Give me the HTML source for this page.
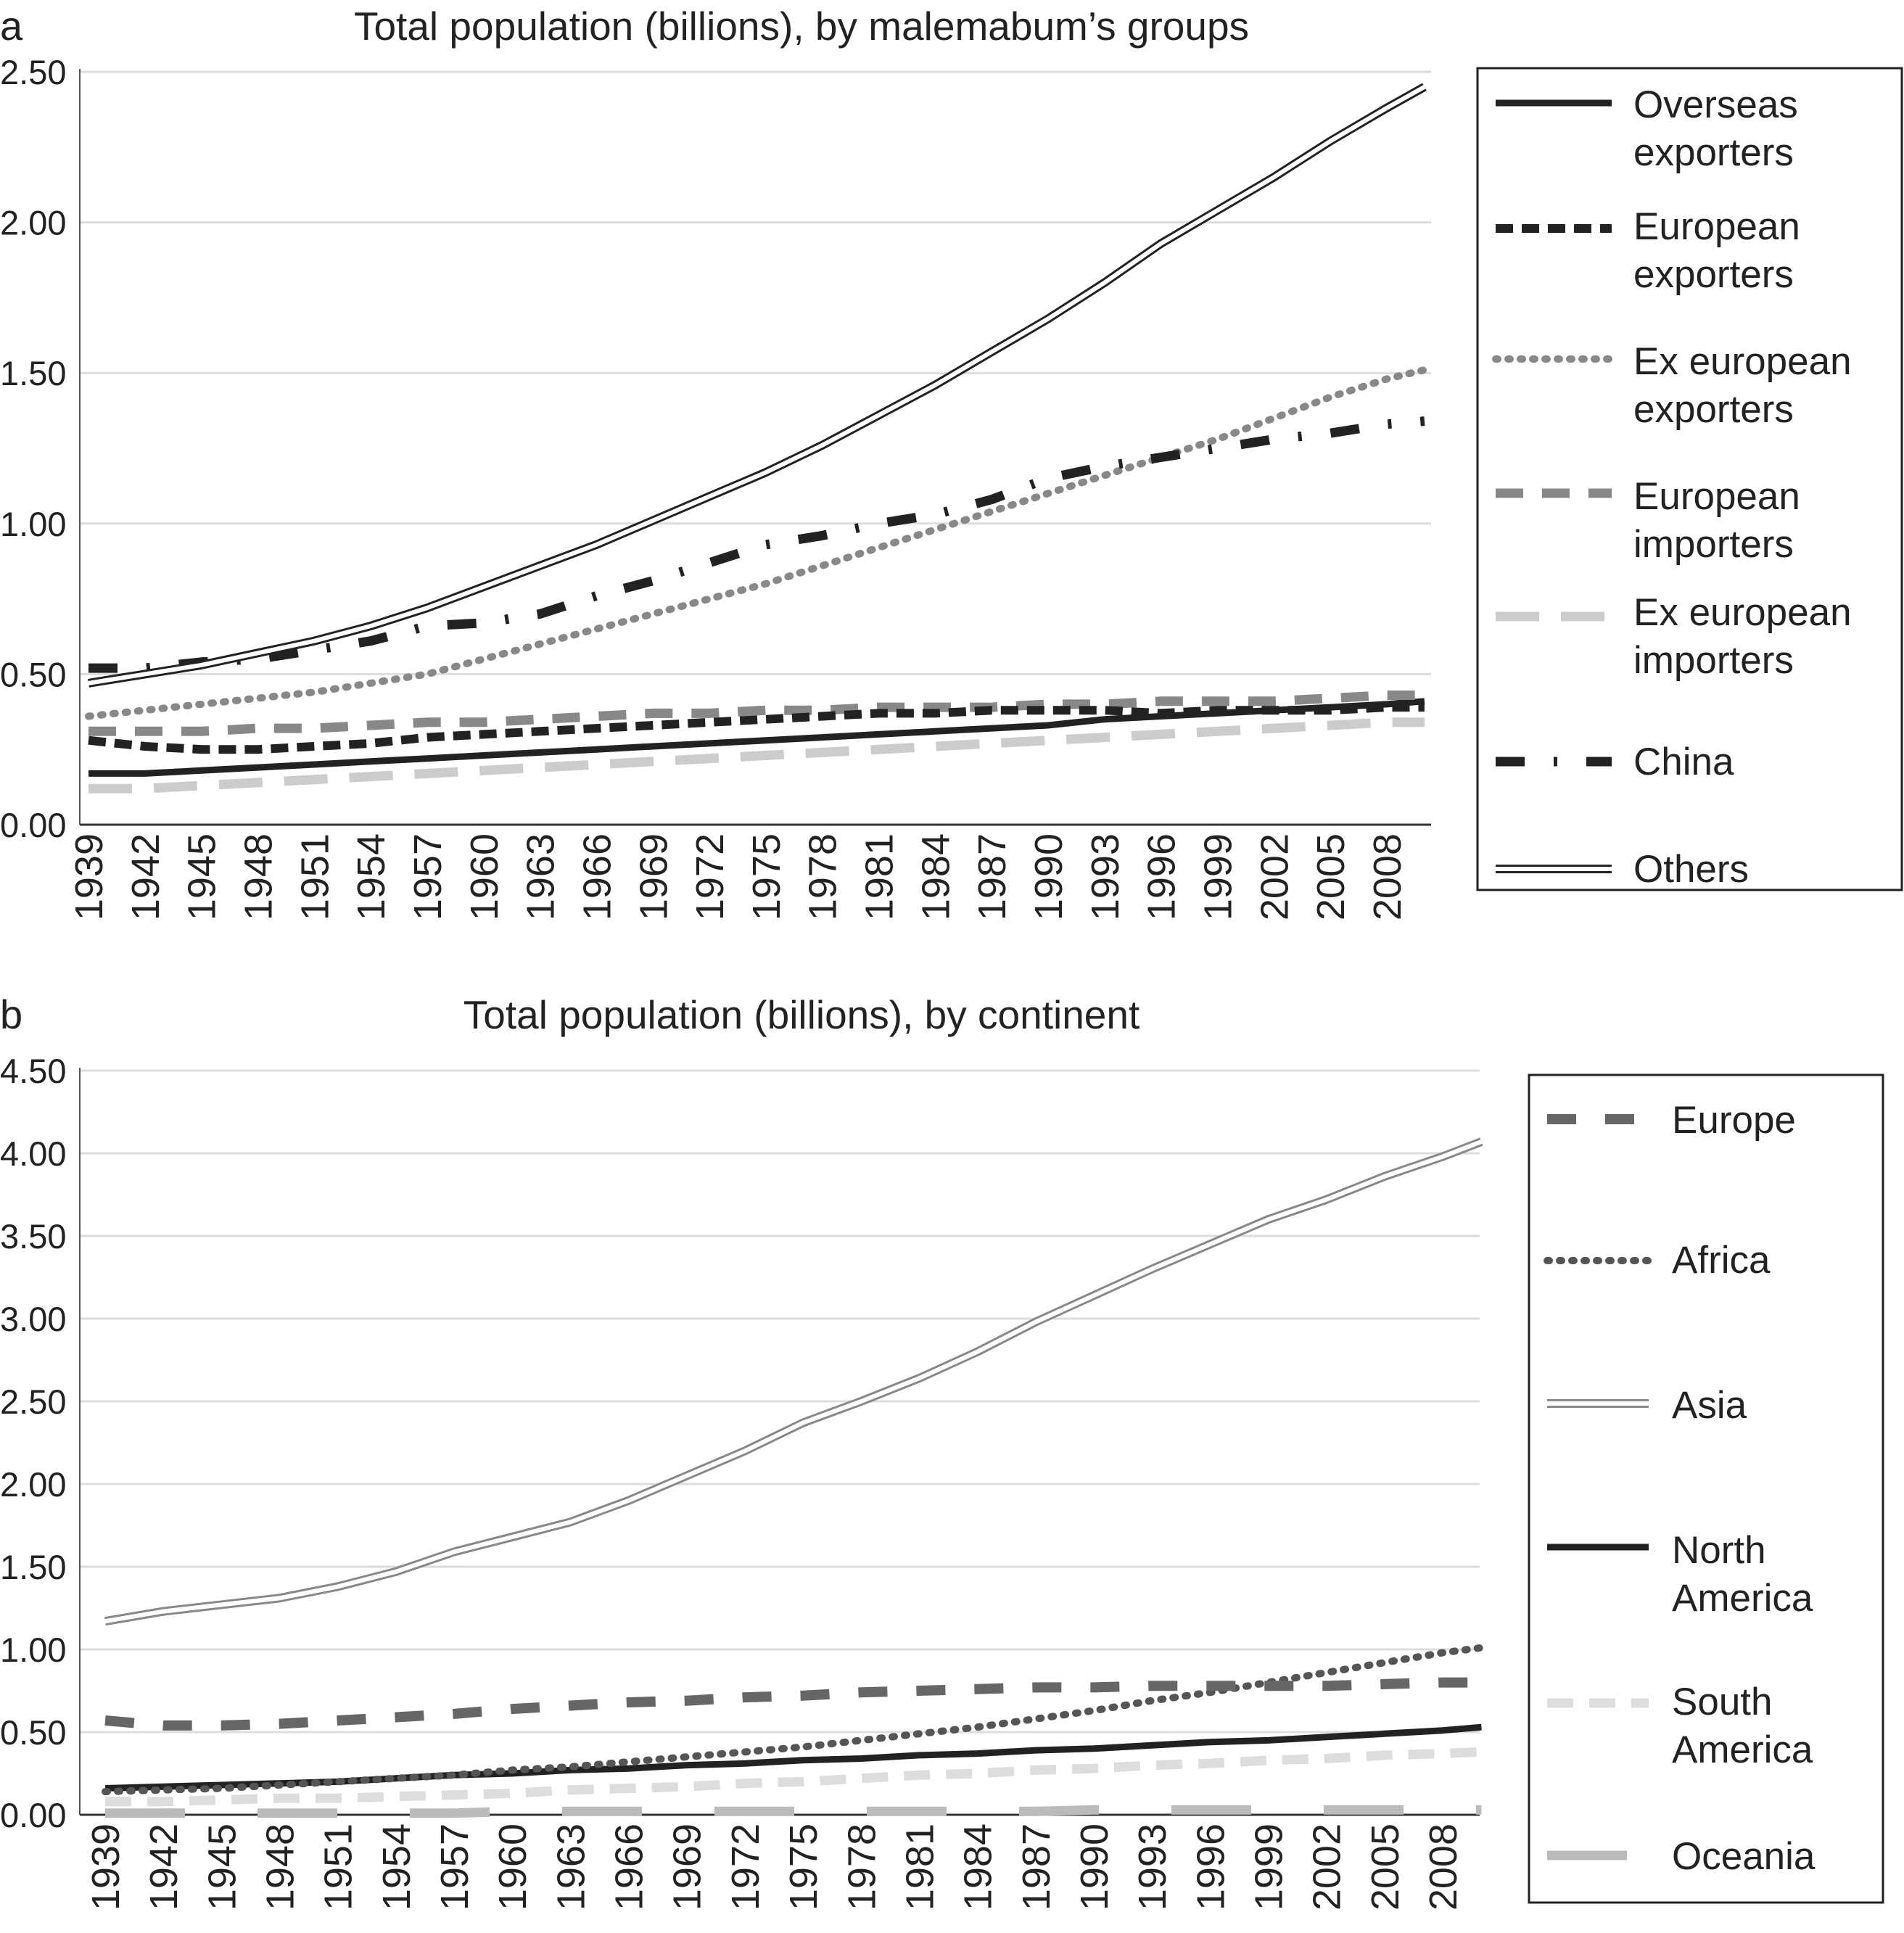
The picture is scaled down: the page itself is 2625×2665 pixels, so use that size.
<!DOCTYPE html>
<html><head><meta charset="utf-8">
<style>
html,body{margin:0;padding:0;background:#fff;}
svg{display:block;font-family:"Liberation Sans",sans-serif;}
</style></head>
<body>
<svg id="root" width="2625" height="2665" viewBox="0 0 2625 2665" xmlns="http://www.w3.org/2000/svg"></svg>
<script>
const years = [1939,1942,1945,1948,1951,1954,1957,1960,1963,1966,1969,1972,1975,1978,1981,1984,1987,1990,1993,1996,1999,2002,2005,2008,2010];
const tickYears = [1939,1942,1945,1948,1951,1954,1957,1960,1963,1966,1969,1972,1975,1978,1981,1984,1987,1990,1993,1996,1999,2002,2005,2008];
const ticksA = [0,0.5,1,1.5,2,2.5];
const ticksB = [0,0.5,1,1.5,2,2.5,3,3.5,4,4.5];
// chart a
const othersA = [0.47,0.50,0.53,0.57,0.61,0.66,0.72,0.79,0.86,0.93,1.01,1.09,1.17,1.26,1.36,1.46,1.57,1.68,1.80,1.93,2.04,2.15,2.27,2.38,2.45];
const exEurExpA = [0.36,0.38,0.40,0.42,0.44,0.47,0.50,0.55,0.60,0.65,0.70,0.75,0.80,0.86,0.92,0.98,1.04,1.10,1.16,1.22,1.28,1.35,1.42,1.48,1.51];
const chinaA = [0.52,0.52,0.54,0.55,0.58,0.61,0.66,0.67,0.70,0.76,0.81,0.87,0.93,0.96,1.00,1.03,1.08,1.15,1.19,1.22,1.25,1.28,1.30,1.33,1.34];
const eurImpA = [0.31,0.31,0.31,0.32,0.32,0.33,0.34,0.34,0.35,0.36,0.37,0.37,0.38,0.38,0.39,0.39,0.39,0.40,0.40,0.41,0.41,0.41,0.42,0.43,0.43];
const eurExpA = [0.28,0.26,0.25,0.25,0.26,0.27,0.29,0.30,0.31,0.32,0.33,0.34,0.35,0.36,0.37,0.37,0.38,0.38,0.38,0.37,0.38,0.38,0.38,0.39,0.39];
const overseasA = [0.17,0.17,0.18,0.19,0.20,0.21,0.22,0.23,0.24,0.25,0.26,0.27,0.28,0.29,0.30,0.31,0.32,0.33,0.35,0.36,0.37,0.38,0.39,0.40,0.41];
const exEurImpA = [0.12,0.12,0.13,0.14,0.15,0.16,0.17,0.18,0.19,0.20,0.21,0.22,0.23,0.24,0.25,0.26,0.27,0.28,0.29,0.30,0.31,0.32,0.33,0.34,0.34];
// chart b
const asiaB = [1.17,1.23,1.27,1.31,1.38,1.47,1.59,1.68,1.77,1.90,2.05,2.20,2.37,2.50,2.64,2.80,2.98,3.14,3.30,3.45,3.60,3.72,3.86,3.98,4.07];
const europeB = [0.57,0.54,0.54,0.55,0.57,0.59,0.61,0.64,0.66,0.68,0.69,0.71,0.72,0.74,0.75,0.76,0.77,0.77,0.78,0.78,0.78,0.78,0.79,0.80,0.80];
const africaB = [0.14,0.15,0.16,0.18,0.20,0.22,0.24,0.27,0.29,0.32,0.35,0.38,0.41,0.45,0.49,0.53,0.58,0.63,0.69,0.74,0.80,0.86,0.92,0.98,1.01];
const nAmericaB = [0.16,0.17,0.18,0.19,0.20,0.22,0.24,0.25,0.27,0.28,0.30,0.31,0.33,0.34,0.36,0.37,0.39,0.40,0.42,0.44,0.45,0.47,0.49,0.51,0.53];
const sAmericaB = [0.08,0.08,0.09,0.10,0.10,0.11,0.12,0.13,0.15,0.16,0.17,0.19,0.20,0.22,0.24,0.25,0.27,0.28,0.30,0.31,0.33,0.34,0.36,0.37,0.38];
const oceaniaB = [0.01,0.01,0.01,0.01,0.01,0.01,0.01,0.02,0.02,0.02,0.02,0.02,0.02,0.02,0.02,0.02,0.02,0.03,0.03,0.03,0.03,0.03,0.03,0.03,0.03];

const NS='http://www.w3.org/2000/svg';
const root=document.getElementById('root');
function mk(tag,attrs,parent){const e=document.createElementNS(NS,tag);for(const k in attrs)e.setAttribute(k,attrs[k]);(parent||root).appendChild(e);return e;}

const styles={
 others:{double:true,color:'#222',w:12},
 asia:{double:true,color:'#888',w:12},
 overseas:{color:'#222',w:9},
 eurExp:{color:'#222',w:12,dash:'24 12'},
 exEurExp:{color:'#888',w:10,dash:'3 14',cap:'round'},
 eurImp:{color:'#888',w:13,dash:'38 26'},
 exEurImp:{color:'#ccc',w:13,dash:'60 30'},
 china:{color:'#222',w:13,dash:'40 40 5 40'},
 europe:{color:'#666',w:14,dash:'40 40'},
 africa:{color:'#555',w:10,dash:'3 14',cap:'round'},
 nAmerica:{color:'#222',w:9},
 sAmerica:{color:'#ddd',w:13,dash:'36 22'},
 oceania:{color:'#bbb',w:13,dash:'110 100'}
};
function drawLine(d,st,g,name){
  if(st.double){
    const a=mk('path',{d:d,fill:'none',stroke:st.color,'stroke-width':st.w,'stroke-linejoin':'round'},g);
    
    const b=mk('path',{d:d,fill:'none',stroke:'#fff','stroke-width':st.w-6,'stroke-linejoin':'round'},g);
    
  } else {
    const p=mk('path',{d:d,fill:'none',stroke:st.color,'stroke-width':st.w,'stroke-dasharray':st.dash||'none','stroke-linecap':st.cap||'butt','stroke-linejoin':'round'},g);
    
  }
}

function chart(c){
  const g=mk('g',{});
  
  
  const xS=yr=>c.x0+(yr-1939)*(c.x1-c.x0)/69;
  const yS=v=>c.yb-v*(c.yb-c.yt)/c.ymax;
  const lab=mk('text',{x:0,y:c.titleY,'font-size':56,fill:'#222'},g);lab.textContent=c.letter;
  
  const t=mk('text',{x:c.titleX,y:c.titleY,'font-size':55,fill:'#222','text-anchor':'middle'},g);t.textContent=c.title;
  
  c.ticks.forEach(v=>{
    const y=yS(v);
    if(v>0){const l=mk('line',{x1:c.left,x2:c.right,y1:y,y2:y,stroke:'#ddd','stroke-width':3},g);
      }
    const tx=mk('text',{x:0,y:y+17,'font-size':47,fill:'#222'},g);tx.textContent=v.toFixed(2);
    
  });
  const ax=mk('line',{x1:c.left,x2:c.left,y1:c.yt-4,y2:c.yb,stroke:'#555','stroke-width':2},g);
  
  const bx=mk('line',{x1:c.left,x2:c.right,y1:c.yb,y2:c.yb,stroke:'#333','stroke-width':3},g);
  
  tickYears.forEach(yr=>{
    const x=xS(yr);
    const tx=mk('text',{x:0,y:0,'font-size':54,fill:'#222','text-anchor':'end',transform:`translate(${x+19},${c.yb+12}) rotate(-90)`},g);
    tx.textContent=yr;
    
  });
  c.series.forEach(s=>{
    const d=s.vals.map((v,i)=>(i?'L':'M')+xS(years[i]).toFixed(1)+' '+yS(v).toFixed(1)).join(' ');
    drawLine(d,styles[s.key],g,s.name);
  });
  const lg=mk('rect',{x:c.lg.x,y:c.lg.y,width:c.lg.w,height:c.lg.h,fill:'#fff',stroke:'#222','stroke-width':3},g);
  
  c.legend.forEach(e=>{
    const st=styles[e.key];
    drawLine(`M${c.lg.x+25} ${e.ly} L${c.lg.x+c.lg.sw} ${e.ly}`,st,g,'legend-swatch');
    e.lines.forEach((ln,i)=>{
      const tx=mk('text',{x:c.lg.x+c.lg.tx,y:e.ty+i*66,'font-size':53,fill:'#222'},g);tx.textContent=ln;
      
    });
  });
}

chart({id:'chart-a',letter:'a',title:'Total population (billions), by malemabum\u2019s groups',titleX:1105,titleY:55,
 left:110,right:1973,x0:122,x1:1912,yt:99,yb:1137,ymax:2.5,ticks:ticksA,
 series:[{key:'exEurImp',vals:exEurImpA,name:'line-ex-european-importers'},{key:'overseas',vals:overseasA,name:'line-overseas-exporters'},
  {key:'eurImp',vals:eurImpA,name:'line-european-importers'},{key:'eurExp',vals:eurExpA,name:'line-european-exporters'},
  {key:'exEurExp',vals:exEurExpA,name:'line-ex-european-exporters'},{key:'china',vals:chinaA,name:'line-china'},
  {key:'others',vals:othersA,name:'line-others'}],
 lg:{x:2037,y:94,w:585,h:1133,sw:185,tx:215},
 legend:[{key:'overseas',ly:142,ty:162,lines:['Overseas','exporters']},
  {key:'eurExp',ly:315,ty:330,lines:['European','exporters']},
  {key:'exEurExp',ly:495,ty:516,lines:['Ex european','exporters']},
  {key:'eurImp',ly:680,ty:702,lines:['European','importers']},
  {key:'exEurImp',ly:850,ty:862,lines:['Ex european','importers']},
  {key:'china',ly:1050,ty:1068,lines:['China']},
  {key:'others',ly:1198,ty:1216,lines:['Others']}]
});
chart({id:'chart-b',letter:'b',title:'Total population (billions), by continent',titleX:1105,titleY:1418,
 left:110,right:2040,x0:145,x1:1989,yt:1476,yb:2502,ymax:4.5,ticks:ticksB,
 series:[{key:'oceania',vals:oceaniaB,name:'line-oceania'},{key:'sAmerica',vals:sAmericaB,name:'line-south-america'},
  {key:'nAmerica',vals:nAmericaB,name:'line-north-america'},{key:'africa',vals:africaB,name:'line-africa'},
  {key:'europe',vals:europeB,name:'line-europe'},{key:'asia',vals:asiaB,name:'line-asia'}],
 lg:{x:2108,y:1482,w:488,h:1141,sw:165,tx:197},
 legend:[{key:'europe',ly:1543,ty:1562,lines:['Europe']},
  {key:'africa',ly:1738,ty:1755,lines:['Africa']},
  {key:'asia',ly:1935,ty:1955,lines:['Asia']},
  {key:'nAmerica',ly:2133,ty:2155,lines:['North','America']},
  {key:'sAmerica',ly:2348,ty:2364,lines:['South','America']},
  {key:'oceania',ly:2558,ty:2577,lines:['Oceania']}]
});
</script>
</body></html>
